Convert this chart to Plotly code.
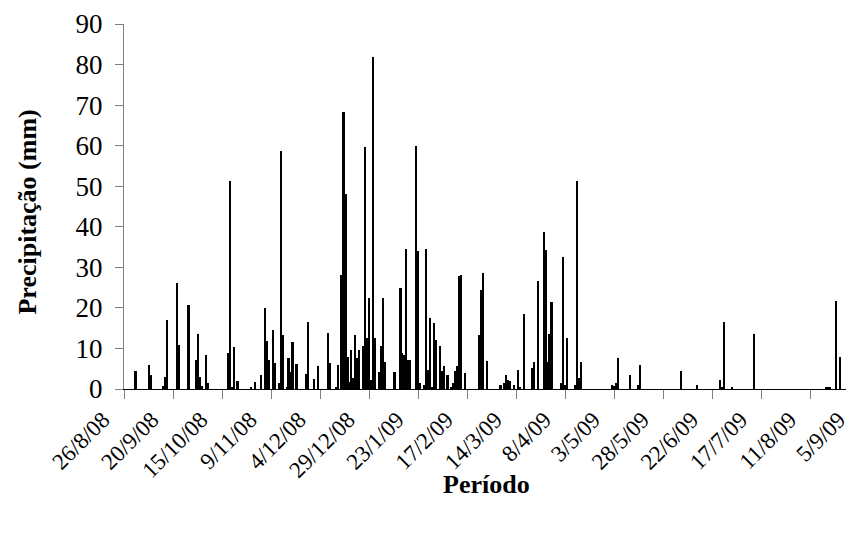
import plotly.graph_objects as go

# Daily rainfall (mm) on rainy days
rain_dates = [
    "2008-09-01", "2008-09-08", "2008-09-09", "2008-09-15", "2008-09-16", "2008-09-17",
    "2008-09-22", "2008-09-23", "2008-09-28", "2008-10-02", "2008-10-03", "2008-10-04",
    "2008-10-05", "2008-10-07", "2008-10-08", "2008-10-18", "2008-10-19", "2008-10-20",
    "2008-10-21", "2008-10-23", "2008-10-30", "2008-11-01", "2008-11-04", "2008-11-06",
    "2008-11-07", "2008-11-08", "2008-11-10", "2008-11-11", "2008-11-13", "2008-11-14",
    "2008-11-15", "2008-11-17", "2008-11-18", "2008-11-19", "2008-11-20", "2008-11-22",
    "2008-11-27", "2008-11-28", "2008-12-01", "2008-12-03", "2008-12-08", "2008-12-09",
    "2008-12-12", "2008-12-13", "2008-12-15", "2008-12-16", "2008-12-17", "2008-12-18",
    "2008-12-19", "2008-12-20", "2008-12-21", "2008-12-22", "2008-12-23", "2008-12-24",
    "2008-12-26", "2008-12-27", "2008-12-28", "2008-12-29", "2008-12-30", "2008-12-31",
    "2009-01-01", "2009-01-03", "2009-01-04", "2009-01-05", "2009-01-06", "2009-01-11",
    "2009-01-14", "2009-01-15", "2009-01-16", "2009-01-17", "2009-01-18", "2009-01-19",
    "2009-01-22", "2009-01-23", "2009-01-24", "2009-01-26", "2009-01-27", "2009-01-28",
    "2009-01-29", "2009-01-30", "2009-01-31", "2009-02-01", "2009-02-03", "2009-02-04",
    "2009-02-05", "2009-02-07", "2009-02-09", "2009-02-10", "2009-02-11", "2009-02-12",
    "2009-02-13", "2009-02-14", "2009-02-16", "2009-02-23", "2009-02-24", "2009-02-25",
    "2009-02-27", "2009-03-06", "2009-03-08", "2009-03-09", "2009-03-10", "2009-03-11",
    "2009-03-13", "2009-03-15", "2009-03-16", "2009-03-18", "2009-03-22", "2009-03-23",
    "2009-03-25", "2009-03-28", "2009-03-29", "2009-03-30", "2009-03-31", "2009-04-01",
    "2009-04-06", "2009-04-07", "2009-04-08", "2009-04-09", "2009-04-13", "2009-04-14",
    "2009-04-15", "2009-04-16", "2009-05-02", "2009-05-03", "2009-05-04", "2009-05-05",
    "2009-05-11", "2009-05-15", "2009-05-16", "2009-06-06", "2009-06-14", "2009-06-26",
    "2009-06-27", "2009-06-28", "2009-07-02", "2009-07-13", "2009-08-19", "2009-08-20",
    "2009-08-21", "2009-08-24", "2009-08-26",
]
rain_mm = [
    4.5, 6.0, 3.5, 0.8, 2.9, 17.1,
    26.2, 10.9, 20.8, 7.2, 13.6, 3.0,
    0.8, 8.5, 1.6, 8.9, 51.2, 0.5,
    10.3, 2.0, 0.4, 1.8, 3.5, 19.9,
    11.9, 7.2, 14.6, 6.5, 1.6, 58.8,
    13.3, 0.3, 7.6, 4.3, 11.5, 6.2,
    3.7, 16.5, 2.5, 5.7, 13.7, 6.5,
    0.3, 5.9, 28.0, 68.3, 48.1, 7.8,
    1.8, 9.6, 2.6, 13.3, 7.6, 9.6,
    10.6, 59.7, 12.5, 22.4, 2.2, 81.9,
    12.5, 4.3, 10.6, 22.4, 6.7, 4.1,
    24.9, 8.8, 8.4, 34.5, 7.2, 7.2,
    59.8, 34.0, 1.4, 1.0, 34.5, 4.7,
    17.4, 0.6, 16.2, 12.1, 10.6, 4.5,
    5.7, 3.5, 0.6, 1.6, 4.5, 5.7,
    27.8, 28.1, 4.0, 13.3, 24.3, 28.6,
    6.9, 1.0, 1.6, 3.5, 2.2, 1.9,
    1.0, 4.7, 0.4, 18.4, 5.3, 6.6,
    26.7, 38.6, 34.3, 6.6, 13.5, 21.4,
    1.4, 32.6, 1.0, 12.5, 1.0, 51.2,
    2.6, 6.6, 1.1, 0.8, 1.5, 7.6,
    3.5, 1.1, 5.8, 4.4, 1.1, 2.3,
    0.6, 16.5, 0.4, 13.5, 0.4, 0.5,
    0.6, 21.8, 7.9,
]

tick_dates = [
    "2008-08-26", "2008-09-20", "2008-10-15", "2008-11-09", "2008-12-04", "2008-12-29",
    "2009-01-23", "2009-02-17", "2009-03-14", "2009-04-08", "2009-05-03", "2009-05-28",
    "2009-06-22", "2009-07-17", "2009-08-11", "2009-09-05",
]
tick_labels = [
    "26/8/08", "20/9/08", "15/10/08", "9/11/08", "4/12/08", "29/12/08",
    "23/1/09", "17/2/09", "14/3/09", "8/4/09", "3/5/09", "28/5/09",
    "22/6/09", "17/7/09", "11/8/09", "5/9/09",
]
y_ticks = [0, 10, 20, 30, 40, 50, 60, 70, 80, 90]

DAY_MS = 86400000
FONT = "Liberation Serif, Times New Roman, DejaVu Serif, serif"

fig = go.Figure(
    go.Bar(
        x=rain_dates,
        y=rain_mm,
        width=0.85 * DAY_MS,
        marker=dict(color="black", line=dict(width=0)),
        showlegend=False,
    )
)

fig.update_layout(
    width=852,
    height=553,
    margin=dict(l=116, r=0, t=16, b=172),
    paper_bgcolor="white",
    plot_bgcolor="white",
    font=dict(family=FONT, size=24, color="black"),
    bargap=0,
    annotations=[
        dict(
            text="Período", xref="paper", yref="paper", x=0.493, y=-0.263,
            xanchor="center", yanchor="middle", showarrow=False,
            font=dict(family=FONT, size=26, color="black", weight="bold"),
        ),
        dict(
            text="Precipitação (mm)", xref="paper", yref="paper", x=-0.131, y=0.485,
            xanchor="center", yanchor="middle", showarrow=False, textangle=-90,
            font=dict(family=FONT, size=26, color="black", weight="bold"),
        ),
    ],
)

fig.update_xaxes(
    type="date",
    range=["2008-08-26", "2009-09-05 02:00"],
    tickvals=tick_dates,
    ticktext=tick_labels,
    tickangle=-45,
    ticks="outside",
    ticklen=9,
    tickcolor="#808080",
    tickfont=dict(family=FONT, size=23, color="black"),
    ticklabeloverflow="allow",
    ticklabelshift=-21,
    ticklabelstandoff=-2,
    showline=True,
    linecolor="black",
    linewidth=1.3,
    showgrid=False,
    zeroline=False,
)

fig.update_yaxes(
    range=[0, 90],
    tickvals=y_ticks,
    ticks="outside",
    ticklen=8,
    tickcolor="#808080",
    tickfont=dict(family=FONT, size=27, color="black"),
    ticklabelstandoff=7,
    showline=True,
    linecolor="#808080",
    linewidth=1,
    showgrid=False,
    zeroline=False,
)

fig.write_html("out.html")
